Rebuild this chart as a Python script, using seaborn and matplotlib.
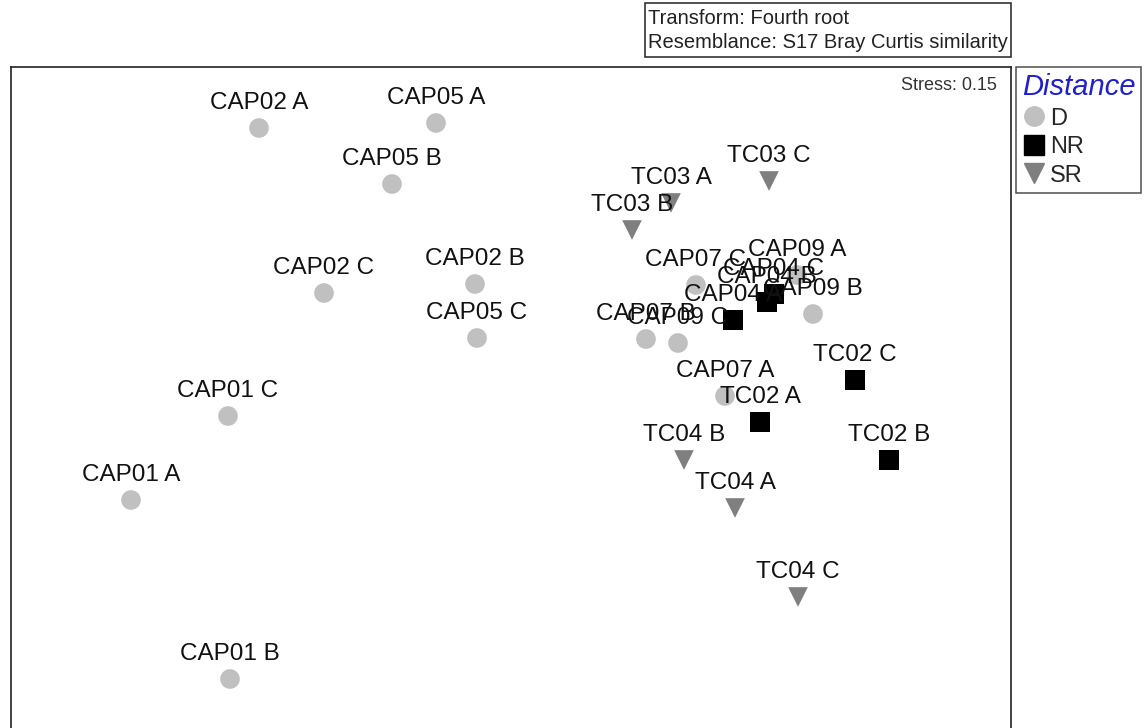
import pandas as pd
import matplotlib.pyplot as plt
import seaborn as sns
from matplotlib.lines import Line2D
from matplotlib.patches import Rectangle

# nMDS coordinates (arbitrary units)
samples = ['CAP02 A', 'CAP05 A', 'CAP05 B', 'CAP02 B', 'CAP02 C', 'CAP05 C',
           'CAP01 C', 'CAP01 A', 'CAP01 B', 'CAP07 C', 'CAP09 A', 'CAP09 B',
           'CAP07 B', 'CAP09 C', 'CAP07 A',
           'CAP04 A', 'CAP04 B', 'CAP04 C', 'TC02 C', 'TC02 A', 'TC02 B',
           'TC03 C', 'TC03 A', 'TC03 B', 'TC04 B', 'TC04 A', 'TC04 C']
distance = ['D'] * 15 + ['NR'] * 6 + ['SR'] * 6
mds1 = [-2.52, -0.75, -1.19, -0.36, -1.87, -0.34,
        -2.83, -3.80, -2.81, 1.85, 2.86, 3.02,
        1.35, 1.67, 2.14,
        2.22, 2.56, 2.63, 3.44, 2.49, 3.78,
        2.58, 1.60, 1.21, 1.73, 2.24, 2.87]
mds2 = [2.72, 2.77, 2.16, 1.16, 1.07, 0.62,
        -0.16, -1.00, -2.79, 1.15, 1.25, 0.86,
        0.61, 0.57, 0.04,
        0.80, 0.98, 1.06, 0.20, -0.22, -0.60,
        2.19, 1.97, 1.70, -0.60, -1.08, -1.97]

df = pd.DataFrame({'sample': samples, 'Distance': distance,
                   'MDS1': mds1, 'MDS2': mds2})

palette = {'D': '#c0c0c0', 'NR': '#000000', 'SR': '#7f7f7f'}
markers = {'D': 'o', 'NR': 's', 'SR': 'v'}

sns.set_style('white')
plt.rcParams['font.family'] = ['Liberation Sans', 'DejaVu Sans']

fig = plt.figure(figsize=(11.45, 7.28), dpi=100)
ax = fig.add_axes([11 / 1145, -12 / 728, 1000 / 1145, (728 - 67 + 12) / 728])

sns.scatterplot(data=df, x='MDS1', y='MDS2', hue='Distance', style='Distance',
                palette=palette, markers=markers, s=200, linewidth=0,
                legend=False, ax=ax)

for name, x, y in zip(samples, mds1, mds2):
    ax.annotate(name, (x, y), xytext=(0, 14), textcoords='offset points',
                ha='center', va='baseline', fontsize=17.5, color='#111111')

ax.set_xlim(-5.0, 5.0)
ax.set_ylim(-3.4, 3.33)
ax.set_xticks([])
ax.set_yticks([])
ax.set_xlabel('')
ax.set_ylabel('')
for sp in ax.spines.values():
    sp.set_color('#222222')
    sp.set_linewidth(1.2)

ax.text(0.986, 0.985, 'Stress: 0.15', transform=ax.transAxes, ha='right',
        va='top', fontsize=13, color='#333333')

# resemblance / transform box
fig.add_artist(Rectangle((645 / 1145, 1 - 57 / 728), 366 / 1145, 54 / 728,
                         transform=fig.transFigure, fc='white', ec='#222222',
                         lw=1.1))
fig.text(648 / 1145, 1 - 18 / 728, 'Transform: Fourth root',
         ha='left', va='center', fontsize=14.5, color='#222222')
fig.text(648 / 1145, 1 - 43 / 728, 'Resemblance: S17 Bray Curtis similarity',
         ha='left', va='center', fontsize=14.5, color='#222222')

handles = [Line2D([], [], marker=markers[k], color=palette[k], linestyle='',
                  markersize=14) for k in ['D', 'NR', 'SR']]
leg = fig.legend(handles, ['D', 'NR', 'SR'], title='Distance',
                 loc='upper left', bbox_to_anchor=(1016 / 1145, 1 - 67 / 728),
                 frameon=True, fancybox=False, fontsize=17, handletextpad=0.2,
                 handlelength=1.0, labelspacing=0.28, borderpad=0.25,
                 borderaxespad=0, alignment='left')
leg.get_frame().set_edgecolor('#222222')
leg.get_frame().set_linewidth(1.1)
leg.get_title().set_color('#2020c8')
leg.get_title().set_fontstyle('italic')
leg.get_title().set_fontsize(21)

fig.savefig('out.png', dpi=100)
